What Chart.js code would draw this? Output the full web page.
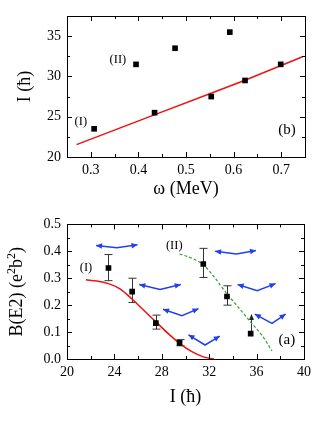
<!DOCTYPE html>
<html lang="en">
<head>
<meta charset="UTF-8">
<title>I vs omega, B(E2) vs I</title>
<script src="https://cdn.jsdelivr.net/npm/chart.js@4.4.1/dist/chart.umd.min.js"></script>
<style>
  body { margin: 0; background: #fff; }
  #wrap { position: relative; width: 316px; height: 427px; }
  #topChart { position: absolute; left: 0; top: 0; }
  #bottomChart { position: absolute; left: 0; top: 210px; }
</style>
</head>
<body>
<div id="wrap">
  <canvas id="topChart" width="316" height="210"></canvas>
  <canvas id="bottomChart" width="316" height="217"></canvas>
</div>

<script>
// ---- panel (b): spin vs rotational frequency ----
const omegaExp = [0.307, 0.395, 0.434, 0.477, 0.553, 0.592, 0.624, 0.699];
const spinExp = [23.5, 31.5, 25.5, 33.5, 27.5, 35.5, 29.5, 31.5];
const omegaFit = [0.27, 0.432, 0.554, 0.6225, 0.745];
const spinFit = [21.53, 25.2, 27.95, 29.5, 32.45];
const omegaTicks = [0.3, 0.4, 0.5, 0.6, 0.7];
const omegaTickLabels = ['0.3', '0.4', '0.5', '0.6', '0.7'];
const omegaMinor = [0.35, 0.45, 0.55, 0.65];
const spinTicksB = [20, 25, 30, 35];
const spinTickLabelsB = ['20', '25', '30', '35'];
const spinMinorB = [22.5, 27.5, 32.5];

// ---- panel (a): B(E2) vs spin ----
const spinA = [23.5, 25.5, 27.5, 29.5, 31.5, 33.5, 35.5];
const be2 = [0.338, 0.25, 0.133, 0.06, 0.353, 0.232, 0.094];
const be2ErrUp = [0.05, 0.05, 0.03, 0.012, 0.058, 0.04, null];
const be2ErrDown = [0.047, 0.04, 0.022, 0.011, 0.05, 0.032, null];
const be2LowerLimitTo = [null, null, null, null, null, null, 0.167];
const spinCalcI = [21.6, 22.5, 23.5, 24.5, 25.5, 26.5, 27.5, 28.5, 29.5, 30.5, 31.5, 32.4];
const be2CalcI = [0.294, 0.29, 0.28, 0.26, 0.222, 0.18, 0.138, 0.096, 0.058, 0.028, 0.008, 0.0];
const spinCalcII = [29.5, 30.5, 31.5, 32.5, 33.5, 34.5, 35.5, 36.5, 37.3];
const be2CalcII = [0.39, 0.375, 0.35, 0.3, 0.242, 0.19, 0.137, 0.085, 0.03];
// shape sketches (left end, bend, right end) in data units
const shapeSpin = [
  [22.45, 24.2, 25.95],
  [26.1, 27.85, 29.6],
  [28.1, 29.7, 31.1],
  [30.25, 31.65, 32.9],
  [32.5, 34.3, 35.95],
  [34.4, 36.05, 37.6],
  [35.85, 37.3, 38.45]
];
const shapeBE2 = [
  [0.422, 0.413, 0.424],
  [0.277, 0.258, 0.277],
  [0.185, 0.161, 0.187],
  [0.09, 0.052, 0.085],
  [0.40, 0.39, 0.403],
  [0.277, 0.254, 0.28],
  [0.167, 0.132, 0.167]
];
const spinTicksA = [20, 24, 28, 32, 36, 40];
const spinTickLabelsA = ['20', '24', '28', '32', '36', '40'];
const spinMinorA = [22, 26, 30, 34, 38];
const be2Ticks = [0, 0.1, 0.2, 0.3, 0.4, 0.5];
const be2TickLabels = ['0.0', '0.1', '0.2', '0.3', '0.4', '0.5'];
const be2Minor = [0.05, 0.15, 0.25, 0.35, 0.45];

const SERIF = "'Liberation Serif', 'Times New Roman', serif";
const BLUE = '#2040ee';

function xy(xs, ys) {
    return xs.map((v, i) => ({x: v, y: ys[i]}));
}

function arrowHead(ctx, fx, fy, tx, ty, len, half) {
    const a = Math.atan2(ty - fy, tx - fx);
    ctx.beginPath();
    ctx.moveTo(tx, ty);
    ctx.lineTo(tx - len * Math.cos(a) + half * Math.sin(a), ty - len * Math.sin(a) - half * Math.cos(a));
    ctx.lineTo(tx - len * Math.cos(a) - half * Math.sin(a), ty - len * Math.sin(a) + half * Math.cos(a));
    ctx.closePath();
    ctx.fill();
}

// inward ticks on all four sides + box
const framePlugin = {
    id: 'frame',
    afterDatasetsDraw(chart, args, o) {
        const {ctx, chartArea: a} = chart;
        const x = chart.scales.x, y = chart.scales.y;
        ctx.save();
        ctx.strokeStyle = '#000';
        ctx.lineWidth = 1;
        ctx.beginPath();
        const marks = (vals, len, horiz) => vals.forEach(v => {
            if (horiz) {
                const p = Math.round(x.getPixelForValue(v)) + 0.5;
                ctx.moveTo(p, a.bottom); ctx.lineTo(p, a.bottom - len);
                ctx.moveTo(p, a.top); ctx.lineTo(p, a.top + len);
            } else {
                const p = Math.round(y.getPixelForValue(v)) + 0.5;
                ctx.moveTo(a.left, p); ctx.lineTo(a.left + len, p);
                ctx.moveTo(a.right, p); ctx.lineTo(a.right - len, p);
            }
        });
        marks(o.xMajor, 5, true);
        marks(o.xMinor, 3, true);
        marks(o.yMajor, 5, false);
        marks(o.yMinor, 3, false);
        ctx.stroke();
        ctx.strokeRect(Math.round(a.left) + 0.5, Math.round(a.top) + 0.5,
            Math.round(a.right) - Math.round(a.left), Math.round(a.bottom) - Math.round(a.top));
        ctx.restore();
    }
};

// error bars and the lower-limit arrow, under the markers
const errorBarPlugin = {
    id: 'errorBars',
    beforeDatasetsDraw(chart, args, o) {
        if (!o.xs) return;
        const {ctx} = chart;
        const x = chart.scales.x, y = chart.scales.y;
        ctx.save();
        ctx.strokeStyle = '#333';
        ctx.fillStyle = '#222';
        ctx.lineWidth = 1;
        o.xs.forEach((v, i) => {
            const px = Math.round(x.getPixelForValue(v)) + 0.5;
            if (o.up[i] != null) {
                const top = y.getPixelForValue(o.ys[i] + o.up[i]);
                const bot = y.getPixelForValue(o.ys[i] - o.down[i]);
                ctx.beginPath();
                ctx.moveTo(px, top); ctx.lineTo(px, bot);
                ctx.moveTo(px - 4, top); ctx.lineTo(px + 4, top);
                ctx.moveTo(px - 4, bot); ctx.lineTo(px + 4, bot);
                ctx.stroke();
            }
            if (o.limitTo[i] != null) {
                const from = y.getPixelForValue(o.ys[i]);
                const to = y.getPixelForValue(o.limitTo[i]);
                ctx.beginPath();
                ctx.moveTo(px, from); ctx.lineTo(px, to + 4);
                ctx.stroke();
                arrowHead(ctx, px, from, px, to, 6, 2.5);
            }
        });
        ctx.restore();
    }
};

// arrowheads at both ends of the blue shape lines
const shapeArrowPlugin = {
    id: 'shapeArrows',
    afterDatasetsDraw(chart) {
        const {ctx} = chart;
        ctx.save();
        chart.data.datasets.forEach((ds, i) => {
            if (!ds.arrowEnds) return;
            const pts = chart.getDatasetMeta(i).data;
            const n = pts.length;
            ctx.fillStyle = ds.borderColor;
            arrowHead(ctx, pts[1].x, pts[1].y, pts[0].x, pts[0].y, 6, 2.8);
            arrowHead(ctx, pts[n - 2].x, pts[n - 2].y, pts[n - 1].x, pts[n - 1].y, 6, 2.8);
        });
        ctx.restore();
    }
};

// text labels placed in data units
const textPlugin = {
    id: 'texts',
    afterDatasetsDraw(chart, args, o) {
        const {ctx} = chart;
        const x = chart.scales.x, y = chart.scales.y;
        ctx.save();
        ctx.fillStyle = '#000';
        ctx.textAlign = 'center';
        ctx.textBaseline = 'middle';
        o.items.forEach(t => {
            ctx.font = t.size + 'px ' + SERIF;
            ctx.fillText(t.text, x.getPixelForValue(t.x), y.getPixelForValue(t.y));
        });
        ctx.restore();
    }
};

// y title with real superscripts: B(E2) (e^2 b^2)
const be2TitlePlugin = {
    id: 'be2Title',
    afterDraw(chart, args, o) {
        if (!o.parts) return;
        const {ctx, chartArea: a} = chart;
        ctx.save();
        ctx.fillStyle = '#000';
        ctx.textBaseline = 'alphabetic';
        let total = 0;
        o.parts.forEach(p => {
            ctx.font = (p.sup ? 12 : 18) + 'px ' + SERIF;
            total += ctx.measureText(p.t).width;
        });
        ctx.translate(o.x, (a.top + a.bottom) / 2);
        ctx.rotate(-Math.PI / 2);
        let cx = -total / 2;
        o.parts.forEach(p => {
            ctx.font = (p.sup ? 12 : 18) + 'px ' + SERIF;
            ctx.fillText(p.t, cx, p.sup ? -1 : 6);
            cx += ctx.measureText(p.t).width;
        });
        ctx.restore();
    }
};

function axis(min, max, ticks, labels, fit, title, titlePad, tickPad) {
    return {
        type: 'linear',
        min: min,
        max: max,
        afterBuildTicks: s => { s.ticks = ticks.map(v => ({value: v})); },
        afterFit: fit,
        grid: {display: false, drawTicks: false},
        border: {display: false},
        ticks: {
            autoSkip: false,
            maxRotation: 0,
            padding: tickPad,
            color: '#000',
            font: {family: SERIF, size: 14},
            callback: (v, i) => labels[i]
        },
        title: {
            display: title !== '',
            text: title,
            color: '#000',
            font: {family: SERIF, size: 18},
            padding: titlePad
        }
    };
}

const topChart = new Chart(document.getElementById('topChart'), {
    type: 'scatter',
    data: {
        datasets: [{
            data: xy(omegaExp, spinExp),
            pointStyle: 'rect',
            pointRadius: 4,
            backgroundColor: '#000',
            borderColor: '#000',
            borderWidth: 0
        }, {
            data: xy(omegaFit, spinFit),
            showLine: true,
            pointRadius: 0,
            borderColor: '#ee1111',
            borderWidth: 1.5
        }]
    },
    options: {
        responsive: false,
        animation: false,
        devicePixelRatio: 1,
        layout: {padding: {left: 0, top: 16, right: 11, bottom: 0}},
        plugins: {
            legend: {display: false},
            tooltip: {enabled: false},
            frame: {xMajor: omegaTicks, xMinor: omegaMinor, yMajor: spinTicksB, yMinor: spinMinorB},
            texts: {items: [
                {text: '(I)', x: 0.279, y: 24.4, size: 12.5},
                {text: '(II)', x: 0.357, y: 32.1, size: 12.5},
                {text: '(b)', x: 0.712, y: 23.4, size: 15}
            ]}
        },
        scales: {
            x: axis(0.25, 0.75, omegaTicks, omegaTickLabels, s => { s.height = 53; }, 'ω (MeV)', {top: 0, bottom: 10}, 5),
            y: axis(20, 37.5, spinTicksB, spinTickLabelsB, s => { s.width = 67; }, 'I (ħ)', {top: 14, bottom: 0}, 6)
        }
    },
    plugins: [framePlugin, textPlugin]
});

const shapeSets = shapeSpin.map((xs, i) => ({
    data: xy(xs, shapeBE2[i]),
    showLine: true,
    pointRadius: 0,
    borderColor: BLUE,
    borderWidth: 1.5,
    arrowEnds: true
}));

const bottomChart = new Chart(document.getElementById('bottomChart'), {
    type: 'scatter',
    data: {
        datasets: [{
            data: xy(spinA, be2),
            pointStyle: 'rect',
            pointRadius: 4,
            backgroundColor: '#000',
            borderColor: '#000',
            borderWidth: 0
        }, {
            data: xy(spinCalcI, be2CalcI),
            showLine: true,
            pointRadius: 0,
            borderColor: '#ee1111',
            borderWidth: 1.5,
            cubicInterpolationMode: 'monotone'
        }, {
            data: xy(spinCalcII, be2CalcII),
            showLine: true,
            pointRadius: 0,
            borderColor: '#3a9e3a',
            borderWidth: 1.2,
            borderDash: [3, 2],
            cubicInterpolationMode: 'monotone'
        }].concat(shapeSets)
    },
    options: {
        responsive: false,
        animation: false,
        devicePixelRatio: 1,
        layout: {padding: {left: 0, top: 8, right: 11, bottom: 0}},
        plugins: {
            legend: {display: false},
            tooltip: {enabled: false},
            frame: {xMajor: spinTicksA, xMinor: spinMinorA, yMajor: be2Ticks, yMinor: be2Minor},
            errorBars: {xs: spinA, ys: be2, up: be2ErrUp, down: be2ErrDown, limitTo: be2LowerLimitTo},
            be2Title: {x: 16, parts: [
                {t: 'B(E2) (e'}, {t: '2', sup: true}, {t: 'b'}, {t: '2', sup: true}, {t: ')'}
            ]},
            texts: {items: [
                {text: '(I)', x: 21.6, y: 0.339, size: 12.5},
                {text: '(II)', x: 29.05, y: 0.422, size: 12.5},
                {text: '(a)', x: 38.55, y: 0.072, size: 15}
            ]}
        },
        scales: {
            x: axis(20, 40, spinTicksA, spinTickLabelsA, s => { s.height = 68; }, 'I (ħ)', {top: 0, bottom: 19}, 5),
            y: axis(0, 0.5, be2Ticks, be2TickLabels, s => { s.width = 67; }, '', {top: 0, bottom: 0}, 6)
        }
    },
    plugins: [framePlugin, errorBarPlugin, shapeArrowPlugin, textPlugin, be2TitlePlugin]
});
</script>
</body>
</html>
